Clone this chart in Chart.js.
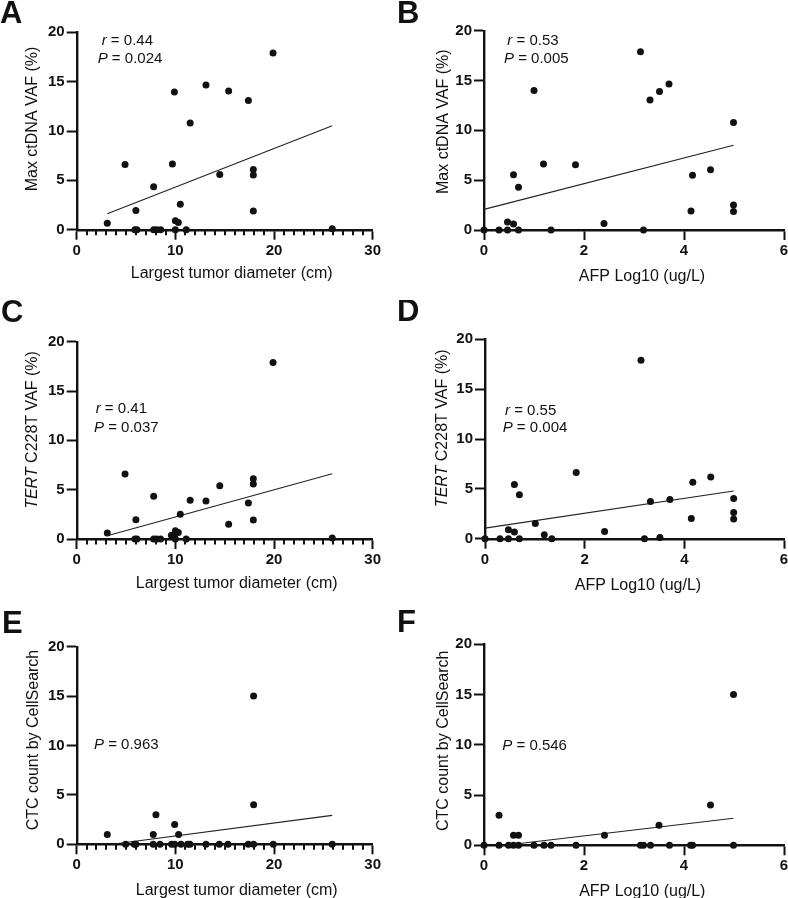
<!DOCTYPE html>
<html><head><meta charset="utf-8">
<script src="https://cdn.jsdelivr.net/npm/chart.js@4.4.0/dist/chart.umd.min.js"></script>
<style>
html,body{margin:0;padding:0;background:#fff}
body{width:788px;height:898px;overflow:hidden;position:relative}
canvas{position:absolute;display:block}
</style></head><body>
<canvas id="cA" width="394" height="300" style="left:0;top:0"></canvas>
<canvas id="cB" width="394" height="300" style="left:394px;top:0"></canvas>
<canvas id="cC" width="394" height="300" style="left:0;top:300px"></canvas>
<canvas id="cD" width="394" height="300" style="left:394px;top:300px"></canvas>
<canvas id="cE" width="394" height="298" style="left:0;top:600px"></canvas>
<canvas id="cF" width="394" height="298" style="left:394px;top:600px"></canvas>
<script>
// ---- data ----
const diameterTicks = [0, 10, 20, 30];
const afpTicks = [0, 2, 4, 6];
const yTicks = [0, 5, 10, 15, 20];

const tumorDiameterA = [3.1, 4.9, 6.0, 5.9, 6.1, 7.8, 7.8, 8.1, 8.5, 9.7, 9.9, 10.0, 10.3, 10.0, 10.5, 11.1, 11.5, 13.1, 14.5, 15.4, 17.4, 17.9, 17.9, 17.9, 19.9, 25.9];
const maxVafA = [0.65, 6.6, 1.95, 0, 0, 4.36, 0, 0, 0, 6.66, 13.95, 0.9, 0.74, 0, 2.57, 0, 10.8, 14.66, 5.6, 14.05, 13.1, 6.1, 5.54, 1.9, 17.9, 0.1];
const fitAx = [3.1, 25.9];
const fitAy = [1.62, 10.54];

const afpB = [0, 0.3, 0.47, 0.47, 0.59, 0.59, 0.69, 0.69, 1.0, 1.19, 1.34, 1.83, 2.4, 3.13, 3.19, 3.32, 3.51, 3.7, 4.14, 4.17, 4.53, 4.99, 4.99, 4.99];
const maxVafB = [0, 0, 0.8, 0, 0.6, 5.55, 4.3, 0, 14.0, 6.62, 0, 6.55, 0.66, 17.9, 0, 13.05, 13.9, 14.65, 1.9, 5.5, 6.05, 10.8, 2.5, 1.85];
const fitBx = [0, 4.99];
const fitBy = [2.07, 8.5];

const tumorDiameterC = [3.1, 4.9, 6.0, 5.9, 6.1, 7.8, 7.8, 8.1, 8.5, 9.6, 9.9, 10.0, 10.3, 10.0, 10.5, 11.1, 11.5, 13.1, 14.5, 15.4, 17.4, 17.9, 17.9, 17.9, 19.9, 25.9];
const tertVafC = [0.6, 6.6, 1.95, 0, 0, 4.34, 0, 0, 0, 0.37, 0.2, 0.84, 0.67, 0, 2.5, 0, 3.94, 3.85, 5.4, 1.5, 3.66, 6.1, 5.57, 1.93, 17.9, 0.1];
const fitCx = [3.1, 25.9];
const fitCy = [0.33, 6.62];

const afpD = [0, 0.3, 0.47, 0.47, 0.59, 0.59, 0.69, 0.69, 1.01, 1.19, 1.34, 1.83, 2.4, 3.13, 3.2, 3.32, 3.51, 3.71, 4.14, 4.17, 4.53, 4.99, 4.99, 4.99];
const tertVafD = [0, 0, 0.9, 0, 0.66, 5.44, 4.4, 0, 1.53, 0.4, 0, 6.65, 0.73, 17.9, 0, 3.74, 0.13, 3.94, 2.02, 5.66, 6.2, 4.04, 2.63, 1.98];
const fitDx = [0, 4.99];
const fitDy = [1.06, 4.78];

const tumorDiameterE = [3.1, 4.96, 5.85, 6.0, 7.76, 7.76, 8.03, 8.44, 9.62, 9.93, 9.93, 10.33, 10.57, 11.25, 11.48, 13.1, 14.45, 15.33, 17.39, 17.93, 17.93, 17.93, 19.92, 25.9];
const ctcE = [1, 0, 0, 0, 1, 0, 3, 0, 0, 2, 0, 1, 0, 0, 0, 0, 0, 0, 0, 4, 15, 0, 0, 0];
const fitEx = [3.6, 25.9];
const fitEy = [0.0, 2.93];

const afpF = [0, 0.3, 0.3, 0.49, 0.59, 0.59, 0.69, 0.69, 1.0, 1.2, 1.34, 1.84, 2.41, 3.13, 3.19, 3.33, 3.5, 3.71, 4.13, 4.17, 4.53, 4.99, 4.99];
const ctcF = [0, 3, 0, 0, 1, 0, 1, 0, 0, 0, 0, 0, 1, 0, 0, 0, 2, 0, 0, 0, 4, 15, 0];
const fitFx = [0.5, 4.99];
const fitFy = [0.05, 2.69];

// ---- layout / text ----
const FONT = "'Liberation Sans', Arial, Helvetica, sans-serif";
const INK = '#111';
const panels = [
  {canvas:'cA', letter:'A', lx:0, ly:23, xs:tumorDiameterA, ys:maxVafA, fx:fitAx, fy:fitAy, xMax:30, xt:diameterTicks, minor:true,
   area:{l:76.7, r:372.7, t:32.3, b:229.7},
   yTitle:{runs:[{t:'Max ctDNA VAF (%)'}], x:33, y:119},
   xTitle:{t:'Largest tumor diameter (cm)', x:231.7, y:278},
   notes:[{runs:[{t:'r',i:1},{t:' = 0.44'}], x:101.7, y:45},{runs:[{t:'P',i:1},{t:' = 0.024'}], x:97.7, y:63.3}]},
  {canvas:'cB', letter:'B', lx:3, ly:23, xs:afpB, ys:maxVafB, fx:fitBx, fy:fitBy, xMax:6, xt:afpTicks, minor:false,
   area:{l:90, r:390, t:30.7, b:230},
   yTitle:{runs:[{t:'Max ctDNA VAF (%)'}], x:50, y:121.7},
   xTitle:{t:'AFP Log10 (ug/L)', x:248, y:281},
   notes:[{runs:[{t:'r',i:1},{t:' = 0.53'}], x:113.3, y:45},{runs:[{t:'P',i:1},{t:' = 0.005'}], x:110, y:63.3}]},
  {canvas:'cC', letter:'C', lx:1, ly:22, xs:tumorDiameterC, ys:tertVafC, fx:fitCx, fy:fitCy, xMax:30, xt:diameterTicks, minor:true,
   area:{l:76.7, r:372.7, t:41.7, b:239},
   yTitle:{runs:[{t:'TERT',i:1},{t:' C228T VAF (%)'}], x:33, y:130},
   xTitle:{t:'Largest tumor diameter (cm)', x:236.7, y:288},
   notes:[{runs:[{t:'r',i:1},{t:' = 0.41'}], x:95.7, y:113.3},{runs:[{t:'P',i:1},{t:' = 0.037'}], x:94, y:131.7}]},
  {canvas:'cD', letter:'D', lx:3, ly:21, xs:afpD, ys:tertVafD, fx:fitDx, fy:fitDy, xMax:6, xt:afpTicks, minor:false,
   area:{l:91, r:390, t:39.3, b:238.7},
   yTitle:{runs:[{t:'TERT',i:1},{t:' C228T VAF (%)'}], x:48.3, y:128.3},
   xTitle:{t:'AFP Log10 (ug/L)', x:244, y:290},
   notes:[{runs:[{t:'r',i:1},{t:' = 0.55'}], x:111, y:115.3},{runs:[{t:'P',i:1},{t:' = 0.004'}], x:108.7, y:132}]},
  {canvas:'cE', letter:'E', lx:2, ly:33, xs:tumorDiameterE, ys:ctcE, fx:fitEx, fy:fitEy, xMax:30, xt:diameterTicks, minor:true,
   area:{l:76.7, r:372.7, t:46.7, b:244.3},
   yTitle:{runs:[{t:'CTC count by CellSearch'}], x:33.3, y:140},
   xTitle:{t:'Largest tumor diameter (cm)', x:236.7, y:294.5},
   notes:[{runs:[{t:'P',i:1},{t:' = 0.963'}], x:94, y:149.3}]},
  {canvas:'cF', letter:'F', lx:3, ly:32, xs:afpF, ys:ctcF, fx:fitFx, fy:fitFy, xMax:6, xt:afpTicks, minor:false,
   area:{l:90, r:390, t:44.3, b:245.3},
   yTitle:{runs:[{t:'CTC count by CellSearch'}], x:49.3, y:140.8},
   xTitle:{t:'AFP Log10 (ug/L)', x:248.3, y:295.5},
   notes:[{runs:[{t:'P',i:1},{t:' = 0.546'}], x:108.3, y:150}]}
];

function drawRuns(ctx, runs, x, y, size) {
  let cx = x;
  for (const r of runs) {
    ctx.font = (r.i ? 'italic ' : '') + size + 'px ' + FONT;
    ctx.fillText(r.t, cx, y);
    cx += ctx.measureText(r.t).width;
  }
}
function runsWidth(ctx, runs, size) {
  let w = 0;
  for (const r of runs) { ctx.font = (r.i ? 'italic ' : '') + size + 'px ' + FONT; w += ctx.measureText(r.t).width; }
  return w;
}

const decorPlugin = {
  id: 'decor',
  afterDraw(chart) {
    const p = chart.config.options.plugins.decor.panel;
    const ctx = chart.ctx;
    ctx.save();
    ctx.fillStyle = INK;
    ctx.textAlign = 'left';
    ctx.textBaseline = 'alphabetic';
    if (p.minor) {
      const xs = chart.scales.x;
      ctx.strokeStyle = INK; ctx.lineWidth = 2;
      const yb = chart.chartArea.bottom;
      for (let v = 1; v < p.xMax; v++) {
        if (v % 10 === 0) continue;
        const px = Math.round(xs.getPixelForValue(v));
        ctx.beginPath(); ctx.moveTo(px, yb); ctx.lineTo(px, yb + 5.5); ctx.stroke();
      }
    }
    ctx.font = 'bold 31px ' + FONT;
    ctx.fillText(p.letter, p.lx, p.ly);
    for (const n of p.notes) drawRuns(ctx, n.runs, n.x, n.y, 15);
    ctx.font = '16px ' + FONT;
    ctx.textAlign = 'center';
    ctx.fillText(p.xTitle.t, p.xTitle.x, p.xTitle.y);
    ctx.textAlign = 'left';
    ctx.textBaseline = 'middle';
    ctx.translate(p.yTitle.x, p.yTitle.y);
    ctx.rotate(-Math.PI / 2);
    const w = runsWidth(ctx, p.yTitle.runs, 16);
    drawRuns(ctx, p.yTitle.runs, -w / 2, 0, 16);
    ctx.restore();
  }
};

function zeroPad(s) { s.paddingLeft = 0; s.paddingRight = 0; s.paddingTop = 0; s.paddingBottom = 0; }

for (const p of panels) {
  const cv = document.getElementById(p.canvas);
  const W = cv.width, H = cv.height;
  const pts = p.xs.map((x, i) => ({x, y: p.ys[i]}));
  const fit = p.fx.map((x, i) => ({x, y: p.fy[i]}));
  new Chart(cv, {
    type: 'scatter',
    data: {datasets: [
      {data: fit, showLine: true, pointRadius: 0, borderColor: '#222', borderWidth: 1.1, clip: false, order: 2},
      {data: pts, pointRadius: 3.5, pointHoverRadius: 3.5, backgroundColor: INK, borderWidth: 0, clip: false, order: 1}
    ]},
    plugins: [decorPlugin],
    options: {
      responsive: false, animation: false, devicePixelRatio: 1,
      events: [],
      layout: {padding: {left: 0, top: p.area.t, right: W - p.area.r, bottom: 0}},
      plugins: {legend: {display: false}, tooltip: {enabled: false}, decor: {panel: p}},
      scales: {
        x: {
          type: 'linear', position: 'bottom', min: 0, max: p.xMax,
          afterBuildTicks: s => { s.ticks = p.xt.map(v => ({value: v})); },
          afterFit: s => { s.height = H - p.area.b; zeroPad(s); },
          grid: {drawOnChartArea: false, drawTicks: true, tickLength: 10, tickWidth: 2, tickColor: INK},
          border: {display: true, color: INK, width: 2.4},
          ticks: {font: {family: FONT, size: 15, weight: 'bold'}, color: INK, padding: 2, maxRotation: 0, autoSkip: false}
        },
        y: {
          type: 'linear', position: 'left', min: 0, max: 20,
          afterBuildTicks: s => { s.ticks = yTicks.map(v => ({value: v})); },
          afterFit: s => { s.width = p.area.l; zeroPad(s); },
          grid: {drawOnChartArea: false, drawTicks: true, tickLength: 10, tickWidth: 2, tickColor: INK},
          border: {display: true, color: INK, width: 2.4},
          ticks: {font: {family: FONT, size: 15, weight: 'bold'}, color: INK, padding: 2, autoSkip: false}
        }
      }
    }
  });
}
</script>
</body></html>
